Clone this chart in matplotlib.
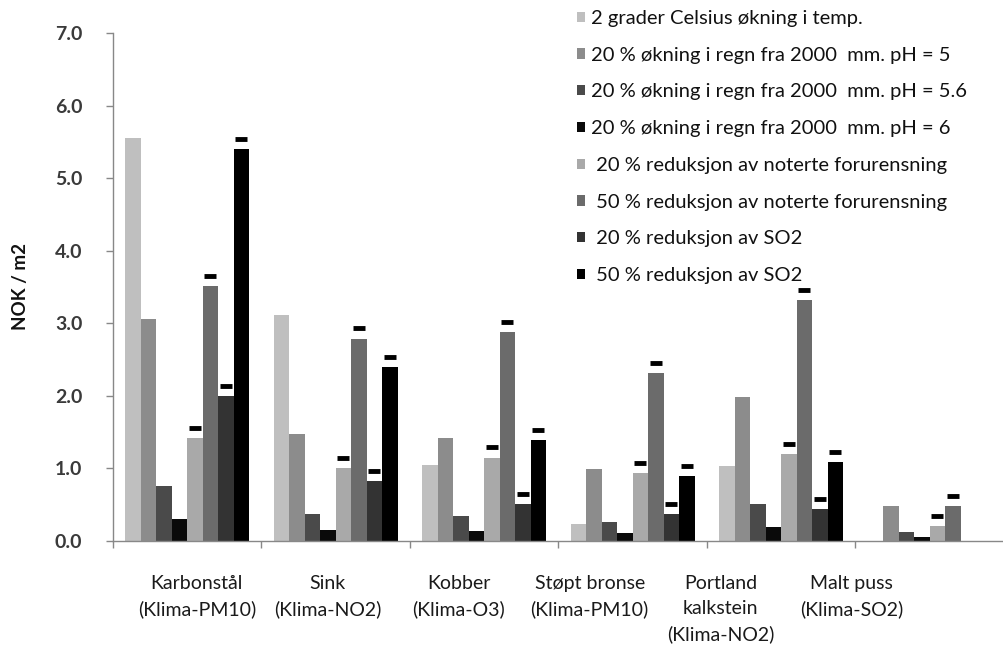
import numpy as np
import matplotlib
matplotlib.use("Agg")
import matplotlib.pyplot as plt
from matplotlib.patches import Patch

plt.rcParams['font.family'] = ['Lato', 'DejaVu Sans']

categories = ["Karbonstål\n(Klima-PM10)", "Sink\n(Klima-NO2)", "Kobber\n(Klima-O3)",
              "Støpt bronse\n(Klima-PM10)", "Portland\nkalkstein\n(Klima-NO2)", "Malt puss\n(Klima-SO2)"]

series_names = [
    "2 grader Celsius økning i temp.",
    "20 % økning i regn fra 2000  mm. pH = 5",
    "20 % økning i regn fra 2000  mm. pH = 5.6",
    "20 % økning i regn fra 2000  mm. pH = 6",
    " 20 % reduksjon av noterte forurensning",
    " 50 % reduksjon av noterte forurensning",
    " 20 % reduksjon av SO2",
    " 50 % reduksjon av SO2",
]

nan = np.nan
temp_2c      = [5.56, 3.11, 1.05, 0.23, 1.03, nan]
rain_ph5     = [3.06, 1.47, 1.42, 0.99, 1.99, 0.48]
rain_ph56    = [0.76, 0.37, 0.34, 0.26, 0.51, 0.12]
rain_ph6     = [0.30, 0.15, 0.14, 0.11, 0.19, 0.05]
red20_noted  = [1.42, 1.00, 1.15, 0.94, 1.20, 0.21]
red50_noted  = [3.51, 2.79, 2.88, 2.31, 3.32, 0.48]
red20_so2    = [2.00, 0.82, 0.51, 0.37, 0.44, nan]
red50_so2    = [5.40, 2.40, 1.39, 0.90, 1.09, nan]

series = [temp_2c, rain_ph5, rain_ph56, rain_ph6, red20_noted, red50_noted, red20_so2, red50_so2]
has_cap = [False, False, False, False, True, True, True, True]
cap_offset = 0.14

colors = ["#bfbfbf", "#8c8c8c", "#4a4a4a", "#0a0a0a", "#a9a9a9", "#6b6b6b", "#333333", "#000000"]

yticks = [0.0, 1.0, 2.0, 3.0, 4.0, 5.0, 6.0, 7.0]
ytick_labels = ["0.0", "1.0", "2.0", "3.0", "4.0", "5.0", "6.0", "7.0"]

fig = plt.figure(figsize=(10.04, 6.46), dpi=100)
ax = fig.add_axes([113/1004, 1-541/646, 1-113/1004, (541-33)/646])

x = np.arange(len(categories))
bw = 0.104
n = len(series)
for j, (vals, c) in enumerate(zip(series, colors)):
    pos = x + (j - (n - 1) / 2) * bw
    v = np.array(vals, dtype=float)
    ax.bar(pos, v, width=bw, color=c, edgecolor='none', zorder=2)
    if has_cap[j]:
        m = ~np.isnan(v)
        ax.plot(pos[m], v[m] + cap_offset, linestyle='none', marker='_',
                markersize=9, markeredgewidth=3.5, color='black', zorder=3)

ax.set_xlim(-0.5, len(categories) - 0.5)
ax.set_ylim(0, 7)
ax.set_yticks(yticks)
ax.set_yticklabels(ytick_labels)
ax.set_xticks(np.arange(len(categories) + 1) - 0.5)
ax.set_xticklabels([])
ax.tick_params(axis='x', direction='out', length=5, color='#888888', width=1)
ax.tick_params(axis='y', direction='out', length=5, color='#888888', width=1,
               labelsize=14, labelcolor='#3a3a3a', pad=17)
for lab in ax.get_yticklabels():
    lab.set_fontweight('bold')
for s in ['top', 'right']:
    ax.spines[s].set_visible(False)
for s in ['left', 'bottom']:
    ax.spines[s].set_color('#888888')
    ax.spines[s].set_linewidth(1)

ax.set_ylabel("NOK / m2", fontsize=13.5, fontweight='bold', color='#111111', labelpad=19)

# category labels (placed with a slightly compressed spacing as in the reference)
label_step = 0.882
label_start = 0.064
for i, cat in enumerate(categories):
    ax.text(label_start + i * label_step, -0.067, cat, transform=ax.get_xaxis_transform(),
            ha='center', va='top', fontsize=14, color='#1a1a1a', linespacing=1.55)

handles = [Patch(facecolor=c, edgecolor='none') for c in colors]
fig.legend(handles, series_names, loc='upper left', bbox_to_anchor=(577/1004, 1 - 10/646),
           frameon=False, fontsize=14.5, handlelength=0.4, handleheight=0.4,
           handletextpad=0.3, labelspacing=0.98, borderpad=0, borderaxespad=0,
           labelcolor='#111111')

fig.savefig("out.png", dpi=100)
